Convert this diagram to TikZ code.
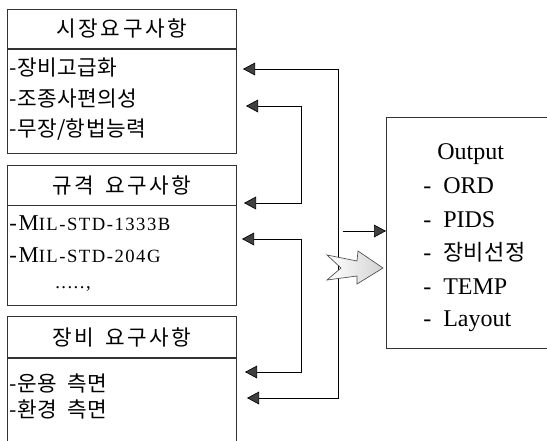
\documentclass[tikz,border=0pt]{standalone}
\usepackage{fontspec}
\setmainfont{Liberation Serif}
\newfontfamily\kr{Noto Sans CJK KR}[LetterSpace=2]
\newfontfamily\krhead{Noto Sans CJK KR}[LetterSpace=12]
\newfontfamily\milfont{Liberation Serif}[LetterSpace=8]
\usetikzlibrary{arrows.meta,positioning}
\newcommand{\krgap}{\hspace{0.5em}}

\begin{document}
\begin{tikzpicture}[x=0.75pt, y=-0.75pt,
    head/.style={rectangle, draw=black!80, line width=0.6pt, minimum width=171.75pt, inner sep=0pt, font=\krhead\fontsize{16}{19}\selectfont},
    body/.style={rectangle, draw=black!80, line width=0.6pt, minimum width=171.75pt, inner sep=0pt},
    item/.style={anchor=west, inner sep=0pt, font=\kr\fontsize{16}{19}\selectfont},
    milspec/.style={anchor=base west, inner sep=0pt, font=\milfont\fontsize{14}{17}\selectfont},
    outitem/.style={anchor=base west, inner sep=0pt, font=\fontsize{18}{21}\selectfont},
    tipped/.style={draw=black, line width=0.5pt, {Triangle[length=9pt,width=9.5pt,fill=gray!50!black]}-{Triangle[length=9pt,width=9.5pt,fill=gray!50!black]}},
    line/.style={draw=black, line width=0.5pt, -{Triangle[length=9pt,width=9.5pt,fill=gray!50!black]}},
    bigarrow/.style={draw=black!70, line width=0.5pt, left color=white, right color=gray!35}]

    \useasboundingbox (0,0) rectangle (547,440);

    % requirement boxes
    \node [head, minimum height=29.25pt, anchor=north west] (market) at (7,9) {시장요구사항};
    \node [body, minimum height=78pt, below=0pt of market] (marketbody) {};
    \node [head, minimum height=30pt, below=8.25pt of marketbody] (spec) {규격\krgap 요구사항};
    \node [body, minimum height=75pt, below=0pt of spec] (specbody) {};
    \node [head, minimum height=30.75pt, below=7.5pt of specbody] (equip) {장비\krgap 요구사항};
    \node [body, minimum height=65.25pt, below=0pt of equip] (equipbody) {};

    \node [item] (upgrade) at (9,68) {-장비고급화};
    \node [item] (pilot) at (9,99) {-조종사편의성};
    \node [item] (arms) at (9,130) {-무장/항법능력};
    \node [milspec] (mila) at (9,230) {{\fontsize{17}{19}\selectfont -M}IL-STD-1333B};
    \node [milspec] (milb) at (9,262) {{\fontsize{17}{19}\selectfont -M}IL-STD-204G};
    \node [milspec] (more) at (55,288) {.....,};
    \node [item] (operate) at (9,383) {-운용\krgap 측면};
    \node [item] (environ) at (9,409) {-환경\krgap 측면};

    % output box
    \node [body, minimum width=125pt, minimum height=173.25pt, anchor=north west] (output) at (386,117) {};
    \node [outitem] (outtitle) at (437,159) {Output};
    \node [outitem] (ord) at (423,193) {-\hspace{0.5em}ORD};
    \node [outitem] (pids) at (423,227) {-\hspace{0.5em}PIDS};
    \node [outitem] (select) at (423,260) {-\hspace{0.5em}{\kr\fontsize{16.5}{19}\selectfont 장비선정}};
    \node [outitem] (temp) at (423,294) {-\hspace{0.5em}TEMP};
    \node [outitem] (layout) at (423,326) {-\hspace{0.5em}Layout};

    % feedback loops
    \coordinate (m1) at (243,69);
    \coordinate (m2) at (246,106);
    \coordinate (s1) at (244,203);
    \coordinate (s2) at (242,239);
    \coordinate (e1) at (245,372);
    \coordinate (e2) at (247,398);
    \coordinate (outer) at (338,398);
    \coordinate (innera) at (301,203);
    \coordinate (innerb) at (301,372);
    \coordinate (feed) at (343,231);

    \draw [tipped] (m1) -| (outer) -- (e2);
    \draw [tipped] (m2) -| (innera) -- (s1);
    \draw [tipped] (s2) -| (innerb) -- (e1);
    \path [line] (feed) -- (feed -| output.west);

    \draw [bigarrow] (327,255) -- (357,261) -- (358,251) -- (383,268) -- (357,284) -- (357,276) -- (327,280) -- (341,268) -- cycle;
\end{tikzpicture}
\end{document}
